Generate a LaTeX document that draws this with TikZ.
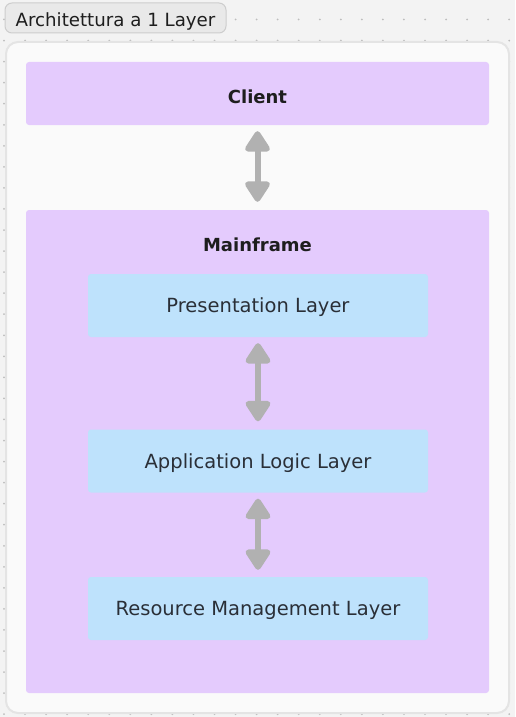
\documentclass[tikz,border=0pt]{standalone}
\usepackage{fontspec}
\setmainfont{DejaVu Sans}
\usetikzlibrary{arrows.meta}

\definecolor{bgcol}{HTML}{F3F3F3}
\definecolor{dotcol}{HTML}{BDBDBD}
\definecolor{framecol}{HTML}{FAFAFA}
\definecolor{framedraw}{HTML}{E4E4E4}
\definecolor{badgecol}{HTML}{E9E9E9}
\definecolor{badgedraw}{HTML}{CDCDCD}
\definecolor{lilla}{HTML}{E4CBFD}
\definecolor{azzurro}{HTML}{BEE2FC}
\definecolor{freccia}{HTML}{B1B1B1}
\definecolor{testo}{HTML}{1E1E1E}
\definecolor{testolayer}{HTML}{2A2F37}

\tikzset{
  blocco/.style={rectangle, rounded corners=3pt, inner sep=0pt, fill=lilla, minimum width=463pt},
  layer/.style={rectangle, rounded corners=3pt, inner sep=0pt, fill=azzurro, minimum width=340pt, minimum height=63pt,
    font=\fontsize{19.5}{22}\selectfont, text=testolayer, text height=14.2pt, text depth=0pt},
  titolo/.style={font=\fontsize{18}{20}\selectfont\bfseries, text=testo, text height=13pt, text depth=0pt},
  freccia/.style={draw=freccia, line width=6pt, {Triangle[width=28pt,length=23pt,round]}-{Triangle[width=28pt,length=23pt,round]}}
}

\begin{document}
\begin{tikzpicture}[x=1pt, y=-1pt]
    % Sfondo a puntini
    \useasboundingbox (0,0) rectangle (515,717);
    \fill[bgcol] (0,0) rectangle (515,717);
    \foreach \i in {0,...,24} {
      \foreach \j in {0,...,33} {
        \fill[dotcol] (4+21.05*\i, 19.5+21.05*\j) circle (1pt);
      }
    }

    % Cornice esterna e titolo
    \draw[framedraw, fill=framecol, line width=2pt, rounded corners=12pt] (6,42) rectangle (509,713);
    \draw[badgedraw, fill=badgecol, line width=1pt, rounded corners=7pt] (5,3) rectangle (226,33);
    \node[font=\fontsize{18.2}{20}\selectfont, text=testo, text height=13.3pt, text depth=0pt] (badge) at (115.5,19.5) {Architettura a 1 Layer};

    % Client
    \node[blocco, minimum height=63pt, titolo, text height=19pt] (client) at (257.5,93.5) {Client};

    % Mainframe
    \node[blocco, minimum height=483pt] (mainframe) at (257.5,451.5) {};
    \node[titolo] (mftitolo) at (257.5,245) {Mainframe};

    % Livelli
    \node[layer] (pres) at (258,305.5) {Presentation Layer};
    \node[layer] (app) at (258,461) {Application Logic Layer};
    \node[layer] (res) at (258,608.5) {Resource Management Layer};

    % Frecce
    \draw[freccia, shorten <=6pt, shorten >=8pt] (client) -- (mainframe);
    \draw[freccia, shorten <=6pt, shorten >=8pt] (pres) -- (app);
    \draw[freccia, shorten <=6pt, shorten >=7pt] (app) -- (res);
\end{tikzpicture}
\end{document}
